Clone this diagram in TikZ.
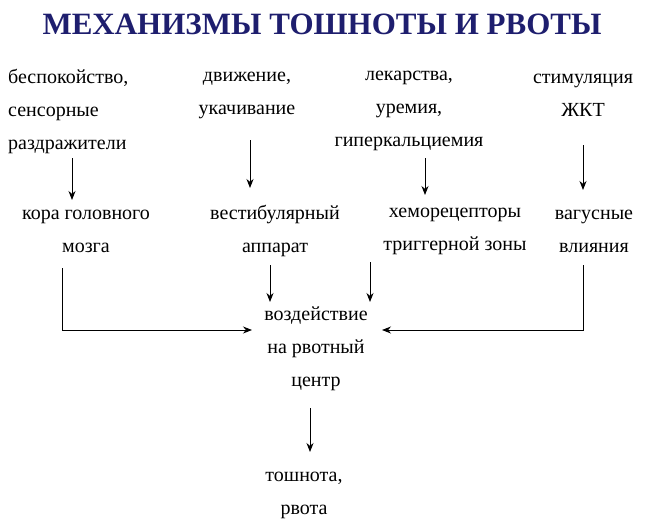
\documentclass[tikz,border=0pt]{standalone}
\usepackage{fontspec}
\usetikzlibrary{arrows.meta}
\setmainfont{Liberation Serif}
\newfontfamily\srf{Liberation Serif}
\begin{document}
\begin{tikzpicture}[x=1pt,y=-1pt,
  t/.style={font=\srf\fontsize{20}{33}\selectfont, inner sep=0pt, align=center},
  ar/.style={-{Stealth[length=9pt,width=7pt]}, line width=0.9pt}]
\useasboundingbox (0,0) rectangle (650,527);
\node[font=\srf\bfseries\fontsize{31}{32}\selectfont, text={rgb,255:red,30;green,30;blue,110}] (title) at (322,24) {МЕХАНИЗМЫ ТОШНОТЫ И РВОТЫ};
\node[t, align=left, anchor=west] (a1) at (8,111) {беспокойство,\\сенсорные\\раздражители};
\node[t] (a2) at (247,95) {движение,\\укачивание};
\node[t] (a3) at (409,111) {лекарства,\\уремия,\\гиперкальциемия};
\node[t] (a4) at (583,95) {стимуляция\\ЖКТ};
\node[t] (b1) at (86,231) {кора головного\\мозга};
\node[t] (b2) at (275,231) {вестибулярный\\аппарат};
\node[t] (b3) at (455,231) {хеморецепторы\\триггерной зоны};
\node[t] (b4) at (594,231) {вагусные\\влияния};
\node[t] (c) at (316,349) {воздействие\\на рвотный\\центр};
\node[t] (d) at (304,495) {тошнота,\\рвота};
\coordinate (p1) at (72,158); \coordinate (q1) at (72,200);
\coordinate (p2) at (250,140); \coordinate (q2) at (250,188);
\coordinate (p3) at (425,158); \coordinate (q3) at (425,195);
\coordinate (p4) at (583,145); \coordinate (q4) at (583,190);
\draw[ar] (p1) -- (q1);
\draw[ar] (p2) -- (q2);
\draw[ar] (p3) -- (q3);
\draw[ar] (p4) -- (q4);
\draw[ar] (62,268) -- (62,330) -- (252,330);
\draw[ar] (583,265) -- (583,330) -- (382,330);
\draw[ar] (270,265) -- (270,302);
\draw[ar] (370,262) -- (370,302);
\draw[ar] (310,408) -- (310,452);
\end{tikzpicture}
\end{document}
